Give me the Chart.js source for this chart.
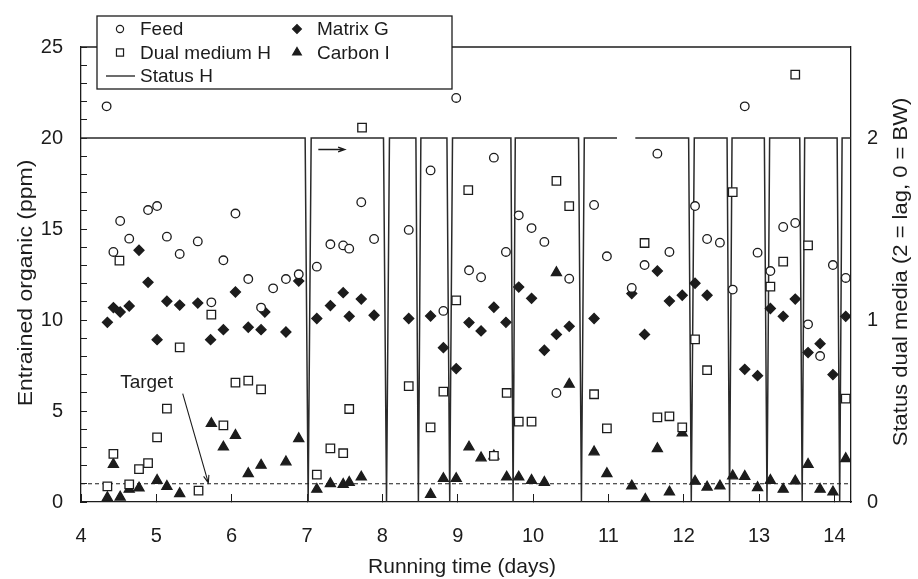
<!DOCTYPE html>
<html>
<head>
<meta charset="utf-8">
<script src="https://cdn.jsdelivr.net/npm/chart.js@4.4.1/dist/chart.umd.min.js"></script>
<style>
  html, body { margin: 0; padding: 0; background: #fff; }
</style>
</head>
<body>
<canvas id="chart" width="918" height="579"></canvas>
<script>
const ink = "#1c1c1c";
const family = "'Liberation Sans', Arial, Helvetica, sans-serif";

// Samples: [running time (days), entrained organic (ppm)]
const feed = [
  [4.34, 21.74], [4.43, 13.74], [4.52, 15.44], [4.64, 14.47], [4.89, 16.04],
  [5.01, 16.26], [5.14, 14.58], [5.31, 13.63], [5.55, 14.32], [5.73, 10.97],
  [5.89, 13.28], [6.05, 15.85], [6.22, 12.25], [6.39, 10.68], [6.55, 11.74],
  [6.72, 12.25], [6.89, 12.51], [7.13, 12.93], [7.31, 14.16], [7.48, 14.1],
  [7.56, 13.92], [7.72, 16.47], [7.89, 14.45], [8.35, 14.95], [8.64, 18.22],
  [8.81, 10.5], [8.98, 22.2], [9.15, 12.73], [9.31, 12.35], [9.48, 18.92],
  [9.64, 13.74], [9.81, 15.75], [9.98, 15.05], [10.15, 14.29], [10.31, 5.99],
  [10.48, 12.27], [10.81, 16.32], [10.98, 13.5], [11.31, 11.76], [11.48, 13.02],
  [11.65, 19.14], [11.81, 13.74], [12.15, 16.26], [12.31, 14.45], [12.48, 14.25],
  [12.65, 11.67], [12.81, 21.74], [12.98, 13.7], [13.15, 12.69], [13.32, 15.11],
  [13.48, 15.33], [13.65, 9.76], [13.81, 8.02], [13.98, 13.02], [14.15, 12.31]
];

const matrixG = [
  [4.35, 9.87], [4.43, 10.68], [4.52, 10.44], [4.64, 10.77], [4.77, 13.83],
  [4.89, 12.07], [5.01, 8.92], [5.14, 11.03], [5.31, 10.82], [5.55, 10.93],
  [5.72, 8.92], [5.89, 9.47], [6.05, 11.54], [6.22, 9.6], [6.39, 9.47],
  [6.44, 10.44], [6.72, 9.34], [6.89, 12.14], [7.13, 10.08], [7.31, 10.79],
  [7.48, 11.5], [7.56, 10.2], [7.72, 11.15], [7.89, 10.26], [8.35, 10.08],
  [8.64, 10.22], [8.81, 8.48], [8.98, 7.33], [9.15, 9.86], [9.31, 9.4],
  [9.48, 10.7], [9.64, 9.87], [9.81, 11.81], [9.98, 11.19], [10.15, 8.34],
  [10.31, 9.21], [10.48, 9.65], [10.81, 10.08], [11.31, 11.45], [11.48, 9.21],
  [11.65, 12.69], [11.81, 11.04], [11.98, 11.36], [12.15, 12.02], [12.31, 11.36],
  [12.81, 7.29], [12.98, 6.94], [13.15, 10.63], [13.32, 10.2], [13.48, 11.15],
  [13.65, 8.21], [13.81, 8.7], [13.98, 7.0], [14.15, 10.2]
];

const dualMediumH = [
  [4.35, 0.86], [4.43, 2.64], [4.51, 13.26], [4.64, 0.97], [4.77, 1.81],
  [4.89, 2.14], [5.01, 3.55], [5.14, 5.13], [5.31, 8.5], [5.56, 0.63],
  [5.73, 10.3], [5.89, 4.21], [6.05, 6.56], [6.22, 6.67], [6.39, 6.19],
  [7.13, 1.5], [7.31, 2.95], [7.48, 2.68], [7.56, 5.11], [7.73, 20.57],
  [8.35, 6.37], [8.64, 4.1], [8.81, 6.06], [8.98, 11.08], [9.14, 17.14],
  [9.48, 2.53], [9.65, 5.99], [9.81, 4.42], [9.98, 4.42], [10.31, 17.64],
  [10.48, 16.26], [10.81, 5.92], [10.98, 4.05], [11.48, 14.23], [11.65, 4.65],
  [11.81, 4.71], [11.98, 4.1], [12.15, 8.94], [12.31, 7.24], [12.65, 17.03],
  [13.15, 11.83], [13.32, 13.21], [13.48, 23.48], [13.65, 14.1], [14.15, 5.68]
];

const carbonI = [
  [4.35, 0.24], [4.43, 2.07], [4.52, 0.27], [4.64, 0.7], [4.77, 0.77],
  [5.01, 1.19], [5.14, 0.86], [5.31, 0.46], [5.73, 4.31], [5.89, 3.02],
  [6.05, 3.66], [6.22, 1.56], [6.39, 2.02], [6.72, 2.2], [6.89, 3.48],
  [7.13, 0.7], [7.31, 1.01], [7.48, 0.97], [7.56, 1.08], [7.72, 1.37],
  [8.64, 0.42], [8.81, 1.29], [8.98, 1.29], [9.15, 3.02], [9.31, 2.42],
  [9.48, 2.53], [9.65, 1.37], [9.81, 1.37], [9.98, 1.19], [10.15, 1.08],
  [10.31, 12.6], [10.48, 6.47], [10.81, 2.75], [10.98, 1.56], [11.31, 0.88],
  [11.49, 0.15], [11.65, 2.93], [11.81, 0.55], [11.98, 3.79], [12.15, 1.14],
  [12.31, 0.82], [12.48, 0.88], [12.65, 1.43], [12.81, 1.41], [12.98, 0.79],
  [13.15, 1.19], [13.32, 0.7], [13.48, 1.15], [13.65, 2.07], [13.81, 0.7],
  [13.98, 0.55], [14.15, 2.38]
];

// Status of dual medium H: 2 = lag, 0 = backwash, null = not logged
const statusDays = [
  4.0, 6.975, 7.015, 7.055, 8.015, 8.055, 8.094, 8.445, 8.478, 8.511,
  8.857, 8.894, 8.931, 9.706, 9.735, 9.764, 10.604, 10.642, 10.68, 11.114,
  11.23, 11.357, 12.065, 12.1, 12.14, 12.575, 12.608, 12.641, 13.07, 13.105,
  13.14, 13.54, 13.572, 13.605, 14.036, 14.07, 14.102, 14.22
];
const statusValues = [
  2, 2, 0, 2, 2, 0, 2, 2, 0, 2,
  2, 0, 2, 2, 0, 2, 2, 0, 2, 2,
  null, 2, 2, 0, 2, 2, 0, 2, 2, 0,
  2, 2, 0, 2, 2, 0, 2, 2
];

const targetPpm = 1;
const dayRange = [4, 14.22];
const dayTicks = [4, 5, 6, 7, 8, 9, 10, 11, 12, 13, 14];
const statusTicks = [0, 1, 2];

const toPoints = (rows) => rows.map(([x, y]) => ({ x, y }));

const markers = {
  feed: { pointStyle: "circle", radius: 4.3, fill: "#fff" },
  matrixG: { pointStyle: "rectRot", radius: 5, fill: ink },
  dualMediumH: { pointStyle: "rect", radius: 6, fill: "#fff" },
  carbonI: { pointStyle: "triangle", radius: 5.8, fill: ink },
};

function markerDataset(label, rows, m) {
  return {
    label,
    data: toPoints(rows),
    pointStyle: m.pointStyle,
    pointRadius: m.radius,
    pointBackgroundColor: m.fill,
    pointBorderColor: ink,
    pointBorderWidth: 1.3,
    showLine: false,
    yAxisID: "y",
  };
}

function arrow(ctx, x1, y1, x2, y2, head) {
  const ang = Math.atan2(y2 - y1, x2 - x1);
  ctx.beginPath();
  ctx.moveTo(x1, y1);
  ctx.lineTo(x2, y2);
  ctx.moveTo(x2 - head * Math.cos(ang - 0.35), y2 - head * Math.sin(ang - 0.35));
  ctx.lineTo(x2, y2);
  ctx.lineTo(x2 - head * Math.cos(ang + 0.35), y2 - head * Math.sin(ang + 0.35));
  ctx.stroke();
}

function verticalText(ctx, text, cx, cy, size, squeeze) {
  ctx.save();
  ctx.translate(cx, cy);
  ctx.rotate(-Math.PI / 2);
  ctx.scale(1, squeeze);
  ctx.font = `${size}px ${family}`;
  ctx.textAlign = "center";
  ctx.textBaseline = "middle";
  ctx.fillText(text, 0, 0);
  ctx.restore();
}

// Frame top, legend box, annotations and axis titles
const decorations = {
  id: "decorations",
  afterDraw(chart) {
    const { ctx, chartArea: a, scales } = chart;
    const x = scales.x, y = scales.y;
    const H = Chart.helpers;
    ctx.save();
    ctx.strokeStyle = ink;
    ctx.fillStyle = ink;
    ctx.lineWidth = 1.3;

    ctx.beginPath();
    ctx.moveTo(a.left, a.top);
    ctx.lineTo(a.right, a.top);
    ctx.stroke();

    // legend
    const box = { l: 97, t: 16, r: 452, b: 89 };
    ctx.fillStyle = "#fff";
    ctx.fillRect(box.l, box.t, box.r - box.l, box.b - box.t);
    ctx.strokeRect(box.l, box.t, box.r - box.l, box.b - box.t);
    const rows = [29, 52.5, 76];
    const items = [
      { text: "Feed", m: markers.feed, mx: 120, tx: 140, row: 0, r: 3.6 },
      { text: "Dual medium H", m: markers.dualMediumH, mx: 120, tx: 140, row: 1, r: 5 },
      { text: "Matrix G", m: markers.matrixG, mx: 297, tx: 317, row: 0, r: 4.4 },
      { text: "Carbon I", m: markers.carbonI, mx: 297, tx: 317, row: 1, r: 5 },
    ];
    ctx.font = `19px ${family}`;
    ctx.textBaseline = "middle";
    ctx.textAlign = "left";
    for (const it of items) {
      ctx.fillStyle = it.m.fill;
      ctx.strokeStyle = ink;
      ctx.lineWidth = 1.2;
      H.drawPoint(ctx, { pointStyle: it.m.pointStyle, radius: it.r, rotation: 0, borderWidth: 1.2 }, it.mx, rows[it.row]);
      ctx.fillStyle = ink;
      ctx.fillText(it.text, it.tx, rows[it.row] + 1);
    }
    ctx.lineWidth = 1.3;
    ctx.beginPath();
    ctx.moveTo(106, rows[2]);
    ctx.lineTo(135, rows[2]);
    ctx.stroke();
    ctx.fillText("Status H", 140, rows[2] + 1);

    // target annotation
    ctx.font = `19px ${family}`;
    ctx.textAlign = "center";
    ctx.fillText("Target", x.getPixelForValue(4.87), y.getPixelForValue(6.55));
    ctx.lineWidth = 1.1;
    arrow(ctx, x.getPixelForValue(5.35), y.getPixelForValue(5.95),
      x.getPixelForValue(5.69), y.getPixelForValue(1.05), 8);

    // flow direction arrow
    ctx.lineWidth = 1.4;
    arrow(ctx, x.getPixelForValue(7.15), y.getPixelForValue(19.37),
      x.getPixelForValue(7.5), y.getPixelForValue(19.37), 7);

    // axis titles
    ctx.fillStyle = ink;
    ctx.font = `21px ${family}`;
    ctx.textAlign = "center";
    ctx.textBaseline = "alphabetic";
    ctx.fillText("Running time (days)", (a.left + a.right) / 2 - 4, 573);
    verticalText(ctx, "Entrained organic (ppm)", 27, 283, 23, 0.85);
    verticalText(ctx, "Status dual media (2 = lag, 0 = BW)", 902, 272, 22, 0.88);
    ctx.restore();
  },
};

const tickFont = { family, size: 20 };

new Chart(document.getElementById("chart"), {
  type: "scatter",
  data: {
    datasets: [
      markerDataset("Feed", feed, markers.feed),
      markerDataset("Matrix G", matrixG, markers.matrixG),
      markerDataset("Dual medium H", dualMediumH, markers.dualMediumH),
      markerDataset("Carbon I", carbonI, markers.carbonI),
      {
        label: "Target",
        data: [{ x: dayRange[0], y: targetPpm }, { x: dayRange[1], y: targetPpm }],
        showLine: true,
        borderColor: ink,
        borderWidth: 1.1,
        borderDash: [4, 3],
        pointRadius: 0,
        yAxisID: "y",
      },
      {
        label: "Status H",
        data: statusDays.map((x, i) => ({ x, y: statusValues[i] })),
        showLine: true,
        spanGaps: false,
        borderColor: "#2a2a2a",
        borderWidth: 1.5,
        pointRadius: 0,
        yAxisID: "y2",
      },
    ],
  },
  options: {
    responsive: false,
    animation: false,
    events: [],
    layout: { padding: { top: 47, left: 0, right: 0, bottom: 0 } },
    plugins: { legend: { display: false }, tooltip: { enabled: false } },
    scales: {
      x: {
        type: "linear",
        position: "bottom",
        min: dayRange[0],
        max: dayRange[1],
        afterBuildTicks: (s) => { s.ticks = dayTicks.map((value) => ({ value })); },
        afterFit: (s) => { s.height = 77; },
        border: { display: true, color: ink, width: 1.3 },
        grid: { drawOnChartArea: false, drawTicks: true, tickLength: -8, color: ink, lineWidth: 1 },
        ticks: { autoSkip: false, maxRotation: 0, padding: 30, color: ink, font: tickFont },
      },
      y: {
        position: "left",
        min: 0,
        max: 25,
        afterFit: (s) => { s.width = 81; },
        border: { display: true, color: ink, width: 1.3 },
        grid: { drawOnChartArea: false, drawTicks: true, tickLength: -6, color: ink, lineWidth: 1 },
        ticks: {
          stepSize: 1,
          autoSkip: false,
          padding: 24,
          color: ink,
          font: tickFont,
          callback: (v) => (v % 5 === 0 ? v : ""),
        },
      },
      y2: {
        position: "right",
        min: 0,
        max: 2.5,
        afterBuildTicks: (s) => { s.ticks = statusTicks.map((value) => ({ value })); },
        afterFit: (s) => { s.width = 67; },
        border: { display: true, color: ink, width: 1.3 },
        grid: { drawOnChartArea: false, drawTicks: false },
        ticks: { autoSkip: false, padding: 16, color: ink, font: tickFont },
      },
    },
  },
  plugins: [decorations],
});
</script>
</body>
</html>
